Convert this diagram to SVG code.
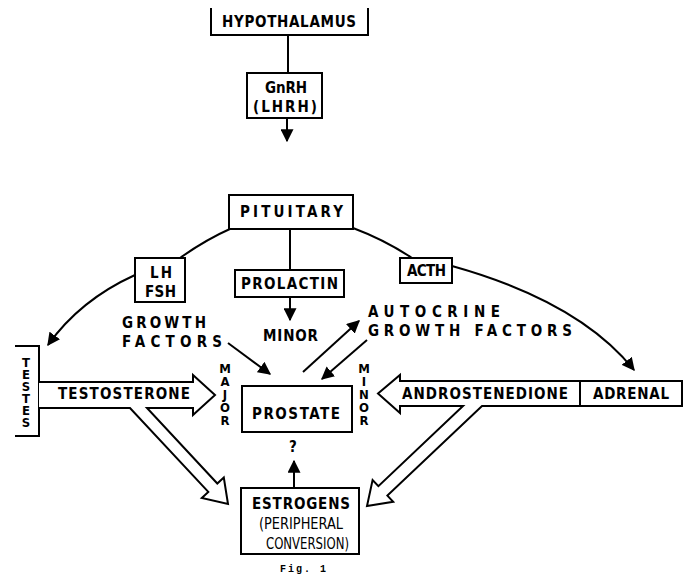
<svg xmlns="http://www.w3.org/2000/svg" width="690" height="577" viewBox="0 0 690 577">
<style>
.bx{fill:#fff;stroke:#000;stroke-width:2}
.ln{fill:none;stroke:#000;stroke-width:2}
.t{font-family:"Liberation Sans Narrow","DejaVu Sans Condensed","Liberation Sans",sans-serif;font-weight:bold;font-size:15px;fill:#000}
.s{font-family:"Liberation Sans Narrow","DejaVu Sans Condensed","Liberation Sans",sans-serif;font-size:15px;fill:#000}
.v{font-family:"DejaVu Sans Condensed","Liberation Sans",sans-serif;font-weight:bold;font-size:13px;letter-spacing:-2px;fill:#000;writing-mode:vertical-rl;text-orientation:upright}
</style>
<defs>
<marker id="ah" viewBox="0 0 10 10" refX="9" refY="5" markerWidth="13" markerHeight="13" markerUnits="userSpaceOnUse" orient="auto"><path d="M0,0 L10,5 L0,10 z" fill="#000"/></marker>
</defs>
<rect width="690" height="577" fill="#fff"/>
<g id="connectors">
<line class="ln" x1="288" y1="35" x2="288" y2="73"/>
<line class="ln" x1="287" y1="118" x2="287" y2="141" marker-end="url(#ah)"/>
<line class="ln" x1="290" y1="229" x2="290" y2="270"/>
<line class="ln" x1="290" y1="297" x2="290" y2="320" marker-end="url(#ah)"/>
<path class="ln" d="M232,228 Q205,240 180,258"/>
<path class="ln" d="M135,275 Q80,300 48,345" marker-end="url(#ah)"/>
<path class="ln" d="M353,228 Q385,240 412,258"/>
<path class="ln" d="M452,266 C520,285 590,315 634,370" marker-end="url(#ah)"/>
<line class="ln" x1="228" y1="343" x2="270" y2="374" marker-end="url(#ah)"/>
<line class="ln" x1="303" y1="372" x2="359" y2="321" marker-end="url(#ah)"/>
<line class="ln" x1="367" y1="340" x2="322" y2="379" marker-end="url(#ah)"/>
<line class="ln" x1="294" y1="488" x2="294" y2="461" marker-end="url(#ah)"/>
</g>
<g id="hypothalamus">
<path class="ln" d="M211,8 V35 H368 V8"/>
<text class="t" x="222" y="27" textLength="134" lengthAdjust="spacing">HYPOTHALAMUS</text>
</g>
<g id="gnrh">
<rect class="bx" x="247" y="73" width="75" height="45"/>
<text class="t" x="265" y="93" textLength="42" lengthAdjust="spacing">GnRH</text>
<text class="t" x="253" y="112" textLength="64" lengthAdjust="spacing">(LHRH)</text>
</g>
<g id="pituitary">
<rect class="bx" x="229" y="195" width="124" height="34"/>
<text class="t" x="240" y="217" textLength="103" lengthAdjust="spacing">PITUITARY</text>
</g>
<g id="lhfsh">
<rect class="bx" x="135" y="258" width="50" height="44"/>
<text class="t" x="150" y="278" textLength="22" lengthAdjust="spacing">LH</text>
<text class="t" x="145" y="297" textLength="31" lengthAdjust="spacing">FSH</text>
</g>
<g id="prolactin">
<rect class="bx" x="235" y="270" width="109" height="27"/>
<text class="t" x="241" y="289" textLength="97" lengthAdjust="spacing">PROLACTIN</text>
</g>
<g id="acth">
<rect class="bx" x="400" y="258" width="52" height="25"/>
<text class="t" x="407" y="276" textLength="39" lengthAdjust="spacing">ACTH</text>
</g>
<g id="growth-factors">
<text class="t" x="122" y="328" textLength="84" lengthAdjust="spacing">GROWTH</text>
<text class="t" x="122" y="347" textLength="100" lengthAdjust="spacing">FACTORS</text>
</g>
<g id="minor-prolactin">
<text class="t" x="263" y="341" textLength="55" lengthAdjust="spacing">MINOR</text>
</g>
<g id="autocrine">
<text class="t" x="368" y="317" textLength="132" lengthAdjust="spacing">AUTOCRINE</text>
<text class="t" x="368" y="336" textLength="204" lengthAdjust="spacing">GROWTH FACTORS</text>
</g>
<g id="testes">
<path class="ln" d="M15,346 H39 V436 H15"/>
<text class="v" x="26" y="355" font-size="14" style="letter-spacing:-3px">TESTES</text>
</g>
<g id="testosterone">
<path class="bx" d="M39,382 H193 V375 L215,395 L193,415 V408 H147 L217.3,483.5 L223.8,477.5 L228,504 L201.8,497.9 L208.3,491.9 L130,408 H39"/>
<text class="t" x="58" y="399" textLength="132" lengthAdjust="spacing">TESTOSTERONE</text>
</g>
<g id="major">
<text class="v" x="225" y="361">MAJOR</text>
</g>
<g id="prostate">
<rect class="bx" x="242" y="386" width="110" height="46"/>
<text class="t" x="252" y="419" textLength="88" lengthAdjust="spacing">PROSTATE</text>
<text class="t" x="289" y="452">?</text>
</g>
<g id="minor-adrenal">
<text class="v" x="364" y="361">MINOR</text>
</g>
<g id="androstenedione">
<path class="bx" d="M580,381 H400 V375 L378,393.5 L400,413 V406 H463 L378.4,486.2 L372.6,480 L367,506 L393.2,501.8 L387.4,495.6 L482,406 H580"/>
<text class="t" x="402" y="399" textLength="166" lengthAdjust="spacing">ANDROSTENEDIONE</text>
</g>
<g id="adrenal">
<rect class="bx" x="580" y="381" width="102" height="25"/>
<text class="t" x="593" y="399" textLength="76" lengthAdjust="spacing">ADRENAL</text>
</g>
<g id="estrogens">
<rect class="bx" x="241" y="488" width="118" height="66"/>
<text class="t" x="252" y="509" textLength="98" lengthAdjust="spacing">ESTROGENS</text>
<text class="s" x="259" y="529" textLength="84" lengthAdjust="spacingAndGlyphs">(PERIPHERAL</text>
<text class="s" x="266" y="549" textLength="83" lengthAdjust="spacingAndGlyphs">CONVERSION)</text>
</g>
<text x="280" y="572" font-family="Liberation Mono, monospace" font-weight="bold" font-size="10" textLength="46" lengthAdjust="spacing">Fig. 1</text>
</svg>
